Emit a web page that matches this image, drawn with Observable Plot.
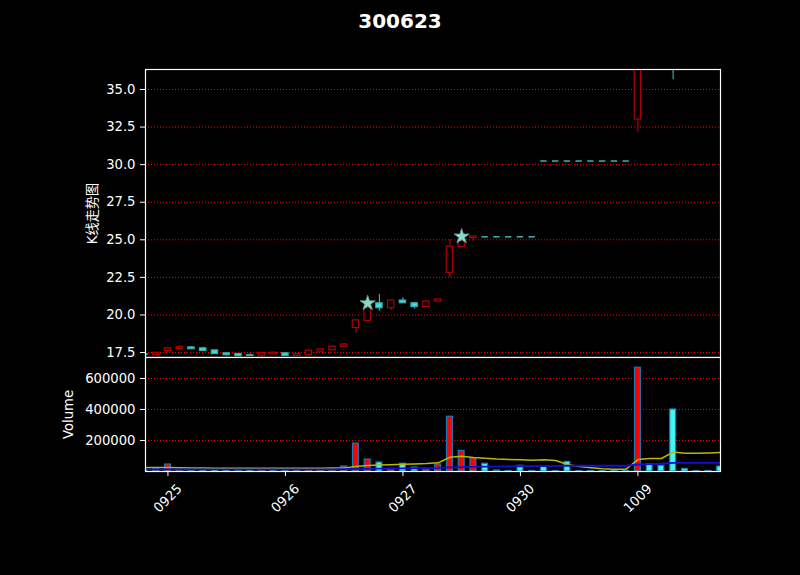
<!DOCTYPE html>
<html><head><meta charset="utf-8">
<script src="https://cdn.jsdelivr.net/npm/d3@7"></script>
<script src="https://cdn.jsdelivr.net/npm/@observablehq/plot@0.6"></script>
<style>
html,body{margin:0;padding:0;background:#000;}
#wrap{position:relative;width:800px;height:575px;background:#000;overflow:hidden;font-family:"DejaVu Sans",sans-serif;color:#fff;}
#title{position:absolute;left:0;top:9px;width:800px;text-align:center;font-weight:bold;font-size:20px;color:#fff;}
#top,#bot{position:absolute;left:0;}
#top{top:0;}
#bot{top:357px;}
</style></head><body>
<div id="wrap"><div id="top"></div><div id="bot"></div><div id="title">300623</div></div>
<script>
// bar index (position on the time axis)
const idx   = [-1,0,1,2,3,4,5,6,7,8,9,10,11,12,13,14,15,16,17,18,19,20,21,22,23,24,25,26,27,28,29,30,31,32,33,34,35,36,37,38,39,40,41,42,43,44,45,46,47,48];
const open  = [17.38,17.34,17.60,17.74,17.84,17.78,17.64,17.45,17.40,17.32,17.29,17.38,17.45,17.28,17.33,17.56,17.65,17.88,19.13,19.60,20.78,20.45,20.96,20.78,20.53,20.89,22.80,24.52,25.12,25.20,25.20,25.20,25.20,25.20,30.24,30.24,30.24,30.24,30.24,30.24,30.24,30.24,33.00,38.50,38.00,39.50,37.50,37.20,37.10,37.00];
const close = [17.34,17.48,17.78,17.86,17.72,17.60,17.40,17.32,17.26,17.28,17.47,17.49,17.28,17.40,17.62,17.71,17.90,18.04,19.64,20.48,20.45,20.96,20.78,20.53,20.90,21.03,24.55,24.92,25.22,25.20,25.20,25.20,25.20,25.20,30.24,30.24,30.24,30.24,30.24,30.24,30.24,30.24,37.50,37.80,37.20,37.00,37.00,37.00,36.90,36.70];
const high  = [17.40,17.50,17.80,17.97,17.90,17.86,17.66,17.46,17.42,17.42,17.48,17.50,17.46,17.41,17.63,17.72,17.92,18.06,19.65,20.80,21.37,20.97,21.15,20.80,20.91,21.04,25.00,25.25,25.23,25.20,25.20,25.20,25.20,25.20,30.24,30.24,30.24,30.24,30.24,30.24,30.24,30.24,37.60,39.00,38.60,40.50,38.00,37.40,37.30,37.20];
const low   = [17.32,17.30,17.50,17.73,17.70,17.59,17.38,17.25,17.22,17.24,17.20,17.36,17.26,17.26,17.31,17.47,17.63,17.86,18.80,19.58,20.26,20.30,20.76,20.40,20.52,20.88,22.48,24.50,24.92,25.20,25.20,25.20,25.20,25.20,30.24,30.24,30.24,30.24,30.24,30.24,30.24,30.24,32.15,37.20,36.80,35.65,36.60,36.90,36.80,36.50];
const volume = [8000,15000,45000,11000,7000,9000,11000,9000,7000,10000,10000,8000,8000,8000,10000,10000,13000,32000,180000,77000,58000,17000,50000,26000,17000,45000,353000,133000,86000,50000,6500,3000,37000,3000,30000,3000,62000,2500,2500,2500,2500,2500,669000,47000,37000,400000,17000,3000,3000,32000];
const maShort = [26000,25000,25000,24000,23000,22000,21000,21000,21000,21000,21000,21000,21000,21000,21000,21000,22000,22000,33000,38000,42000,44000,46000,48000,51000,56000,92000,99000,90000,86000,80000,77000,75000,73000,75000,71000,45000,32000,24000,17000,15000,15000,77000,84000,84000,125000,118000,118000,120000,122000];
const maLong  = [14000,14000,14000,14000,14000,14000,14000,14000,14000,14000,14000,14000,14000,14000,14000,14000,14000,15000,16000,17000,18000,19000,20000,21000,22000,23000,26000,28000,30000,31000,32000,33000,34000,35000,35000,36000,37000,37000,37000,37000,37000,37000,45000,48000,50000,56000,56000,56000,56000,56000];
// signal stars
const starIdx = [18, 26];
const starPrice = [20.78, 25.22];
// axes
const priceTicks = [17.5, 20.0, 22.5, 25.0, 27.5, 30.0, 32.5, 35.0];
const volTicks = [200000, 400000, 600000];
const xTickPos = [1, 11, 21, 31, 41];
const xTickLabels = ["0925", "0926", "0927", "0930", "1009"];

const bars = idx.map((d, k) => ({i: d, open: open[k], close: close[k], high: high[k], low: low[k], vol: volume[k], ma1: maShort[k], ma2: maLong[k]}));
const stars = starIdx.map((d, k) => ({i: d, p: starPrice[k]}));
const up = d => d.close > d.open;

const FS = 13.2;
const RED_EDGE = "#b00000", CY_FILL = "#3fe0e0", CY_EDGE = "#3aa9a9";
const xDomain = [-0.91, 48.03];
const common = {width: 800, marginLeft: 145, marginRight: 80,
  style: {background: "black", color: "white", fontFamily: "DejaVu Sans, sans-serif", fontSize: FS + "px", overflow: "visible"}};

const topChart = Plot.plot({
  ...common,
  height: 357, marginTop: 69, marginBottom: 0,
  x: {type: "linear", domain: xDomain, axis: null},
  y: {domain: [17.17, 36.33], axis: null},
  marks: [
    Plot.ruleY(priceTicks, {stroke: "#ff0000", strokeDasharray: "1,2", strokeWidth: 1}),
    Plot.ruleX(bars, {x: "i", y1: "low", y2: "high", stroke: d => up(d) ? RED_EDGE : CY_EDGE, strokeWidth: 1.2, clip: true}),
    Plot.rect(bars.filter(d => d.open !== d.close), {
      x1: d => d.i - 0.27, x2: d => d.i + 0.27,
      y1: d => Math.min(d.open, d.close), y2: d => Math.max(d.open, d.close),
      fill: d => up(d) ? "black" : CY_FILL, stroke: d => up(d) ? RED_EDGE : CY_EDGE, strokeWidth: 1.2, clip: true}),
    Plot.ruleY(bars.filter(d => d.open === d.close), {y: "open", x1: d => d.i - 0.27, x2: d => d.i + 0.27, stroke: CY_EDGE, strokeWidth: 1.6, clip: true}),
    Plot.dot(stars, {x: "i", y: "p", symbol: "star", r: 4.8, fill: "#8ed8ca", stroke: "#6a9e98", strokeWidth: 0.8}),
    Plot.frame({stroke: "white", strokeWidth: 1.2}),
    Plot.axisY({ticks: priceTicks, tickFormat: d3.format(".1f"), tickSize: 5, tickPadding: 5, fontSize: FS, label: null}),
    Plot.text(["K线走势图"], {frameAnchor: "left", dx: -53, rotate: -90, text: d => d, textAnchor: "middle", lineAnchor: "middle", fill: "white", fontSize: FS, fontFamily: "DejaVu Sans, Noto Sans CJK SC, sans-serif"})
  ]
});
document.getElementById("top").appendChild(topChart);

const botChart = Plot.plot({
  ...common,
  height: 218, marginTop: 0, marginBottom: 104,
  x: {type: "linear", domain: xDomain, axis: null},
  y: {domain: [0, 735000], axis: null},
  marks: [
    Plot.ruleY(volTicks, {stroke: "#ff0000", strokeDasharray: "1,2", strokeWidth: 1}),
    Plot.rect(bars, {x1: d => d.i - 0.25, x2: d => d.i + 0.25, y1: 0, y2: "vol",
      fill: d => up(d) ? "#ff0000" : "#3ff5f5", stroke: "#1f77b4", strokeWidth: 1.2, clip: true}),
    Plot.line(bars, {x: "i", y: "ma1", stroke: "#b8b800", strokeWidth: 1.5, clip: true}),
    Plot.line(bars, {x: "i", y: "ma2", stroke: "#1010d8", strokeWidth: 1.8, clip: true}),
    Plot.frame({stroke: "white", strokeWidth: 1.2}),
    Plot.axisY({ticks: volTicks, tickFormat: d3.format("d"), tickSize: 5, tickPadding: 5, fontSize: FS, label: null}),
    Plot.axisX({ticks: xTickPos, tickFormat: () => "", tickSize: 5, label: null}),
    Plot.text(xTickPos, {x: d => d, frameAnchor: "bottom", dy: 27, rotate: -45, text: (d, k) => xTickLabels[k], textAnchor: "middle", lineAnchor: "middle", fill: "white", fontSize: FS}),
    Plot.text(["Volume"], {frameAnchor: "left", dx: -77, rotate: -90, text: d => d, textAnchor: "middle", lineAnchor: "middle", fill: "white", fontSize: FS})
  ]
});
document.getElementById("bot").appendChild(botChart);
</script>
</body></html>
